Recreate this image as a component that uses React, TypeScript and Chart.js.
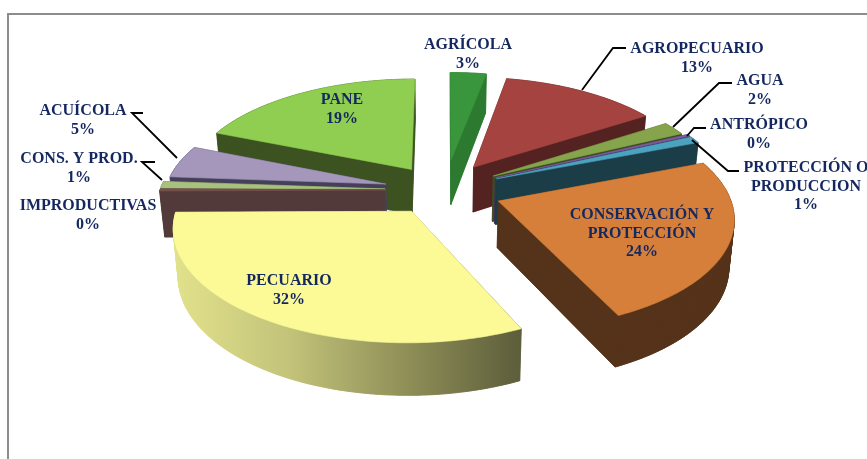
import React, { useEffect, useRef } from "react";
import { Chart, registerables } from "chart.js";

Chart.register(...registerables);

const categories = ["AGRÍCOLA", "AGROPECUARIO", "AGUA", "ANTRÓPICO", "PROTECCIÓN O PRODUCCION", "CONSERVACIÓN Y PROTECCIÓN", "PECUARIO", "IMPRODUCTIVAS", "CONS. Y PROD.", "ACUÍCOLA", "PANE"];
const values = [3, 13, 2, 0.3, 1, 24, 32, 0.3, 1, 5, 19];
const explode = [66, 60, 62, 62, 62, 62, 52, 55, 55, 56, 54];
const radialScale = [0.97, 0.98, 0.98, 1, 1, 0.99, 0.99, 0.97, 0.97, 0.95, 0.98];
const nudgeX = [5, 1, 0, 0, 0, 0, 0, 0, 0, 0, 1];
const topColors = ["#3a963c", "#a54340", "#86a44b", "#7c5c9e", "#4ca3bf", "#d67f3b", "#fbfa97", "#7a4f4f", "#a9c07f", "#a596bb", "#8fce50"];
const wallColors = ["#2c7a30", "#542220", "#3c4d20", "#3f3055", "#1b3d47", "#55331a", "#8f8f55", "#533a3a", "#566a3c", "#45405a", "#3c5220"];
const pecuarioWallStops = ["#e2e28c", "#c3c37a", "#8f8f58", "#5c5d3a"];
const paintOrder = [0, 10, 1, 2, 3, 4, 9, 8, 7, 5, 6];

const labelLines = [
  ["AGRÍCOLA"], ["AGROPECUARIO"], ["AGUA"], ["ANTRÓPICO"], ["PROTECCIÓN O", "PRODUCCION"],
  ["CONSERVACIÓN Y", "PROTECCIÓN"], ["PECUARIO"], ["IMPRODUCTIVAS"], ["CONS. Y PROD."], ["ACUÍCOLA"], ["PANE"],
];
const labelAt = [[468, 45], [697, 49], [760, 81], [759, 125], [806, 168], [642, 215], [289, 281], [88, 206], [79, 159], [83, 111], [342, 100]];
const leaders = [
  [[626, 48], [613, 48], [582, 90]],
  [[732, 83], [719, 83], [673, 127]],
  [[706, 128], [694, 128], [687, 136]],
  [[739, 171], [728, 171], [692, 140]],
  [[143, 113], [132, 113], [177, 158]],
  [[155, 162], [142, 162], [162, 180]],
];

const K = 0.471;
const D = 1750;
const DEPTH = 46;

const pie3d = {
  id: "pie3d",
  beforeDraw(chart: any) {
    const { ctx } = chart;
    ctx.save();
    ctx.fillStyle = "#ffffff";
    ctx.fillRect(0, 0, chart.width, chart.height);
    ctx.strokeStyle = "#8c8c8c";
    ctx.lineWidth = 2;
    ctx.beginPath();
    ctx.moveTo(8, chart.height);
    ctx.lineTo(8, 14);
    ctx.lineTo(chart.width, 14);
    ctx.stroke();
    ctx.restore();
  },
  beforeDatasetsDraw(chart: any) {
    const { ctx } = chart;
    const arcs = chart.getDatasetMeta(0).data;
    const outline = (arc: any, i: number, z: number) => {
      const { x, y, startAngle, endAngle, outerRadius, options } = arc;
      const R = outerRadius * radialScale[i];
      const project = (X: number, Y: number) => {
        const s = 1 / (1 - Y / D);
        return [x + nudgeX[i] + X * s * (1 - 0.0004 * z), y + Y * K * s + z * (1 + (0.12 * Y) / outerRadius)];
      };
      const mid = (startAngle + endAngle) / 2;
      const ex = Math.cos(mid) * options.offset;
      const ey = Math.sin(mid) * options.offset;
      const pts = [project(ex, ey)];
      const steps = Math.max(2, Math.ceil(((endAngle - startAngle) * 180) / Math.PI));
      for (let n = 0; n <= steps; n++) {
        const t = startAngle + ((endAngle - startAngle) * n) / steps;
        pts.push(project(ex + Math.cos(t) * R, ey + Math.sin(t) * R));
      }
      return pts;
    };
    const fillPoly = (pts: number[][], color: any) => {
      ctx.beginPath();
      pts.forEach((p, j) => (j ? ctx.lineTo(p[0], p[1]) : ctx.moveTo(p[0], p[1])));
      ctx.closePath();
      ctx.fillStyle = color;
      ctx.fill();
      ctx.strokeStyle = color;
      ctx.lineWidth = 0.6;
      ctx.stroke();
    };
    for (const i of paintOrder) {
      const arc = arcs[i];
      let wall: any = wallColors[i];
      if (i === 6) {
        wall = ctx.createLinearGradient(173, 0, 522, 0);
        pecuarioWallStops.forEach((c, j) => wall.addColorStop(j / (pecuarioWallStops.length - 1), c));
      }
      const top = outline(arc, i, 0);
      const bottom = outline(arc, i, DEPTH);
      fillPoly(bottom, wall);
      for (let j = 0; j < top.length; j++) {
        const n = (j + 1) % top.length;
        fillPoly([top[j], top[n], bottom[n], bottom[j]], wall);
      }
      fillPoly(top, topColors[i]);
    }
    return false;
  },
  afterDraw(chart: any) {
    const { ctx } = chart;
    const total = values.reduce((a, b) => a + b, 0);
    ctx.save();
    ctx.strokeStyle = "#000000";
    ctx.lineWidth = 1.8;
    leaders.forEach((l) => {
      ctx.beginPath();
      l.forEach((p, j) => (j ? ctx.lineTo(p[0], p[1]) : ctx.moveTo(p[0], p[1])));
      ctx.stroke();
    });
    ctx.fillStyle = "#14285f";
    ctx.font = 'bold 16px "Liberation Serif"';
    ctx.textAlign = "center";
    ctx.textBaseline = "middle";
    categories.forEach((_, i) => {
      const lines = [...labelLines[i], `${Math.round((values[i] / total) * 100)}%`];
      lines.forEach((t, j) => ctx.fillText(t, labelAt[i][0], labelAt[i][1] + j * 18.4));
    });
    ctx.restore();
  },
};

export default function App() {
  const ref = useRef<HTMLCanvasElement>(null);
  useEffect(() => {
    const chart = new Chart(ref.current as any, {
      type: "pie",
      data: {
        labels: categories,
        datasets: [{ data: values, backgroundColor: topColors, offset: explode, borderWidth: 0, hoverOffset: 0 } as any],
      },
      options: {
        animation: false,
        responsive: false,
        radius: 232,
        events: [],
        layout: { padding: { left: 13, bottom: 79 } },
        plugins: { legend: { display: false }, tooltip: { enabled: false } },
      } as any,
      plugins: [pie3d as any],
    });
    return () => chart.destroy();
  }, []);
  return (
    <div style={{ position: "fixed", left: 0, top: 0, width: 867, height: 459, overflow: "hidden" }}>
      <canvas ref={ref} width={867} height={459} style={{ display: "block" }} />
    </div>
  );
}
